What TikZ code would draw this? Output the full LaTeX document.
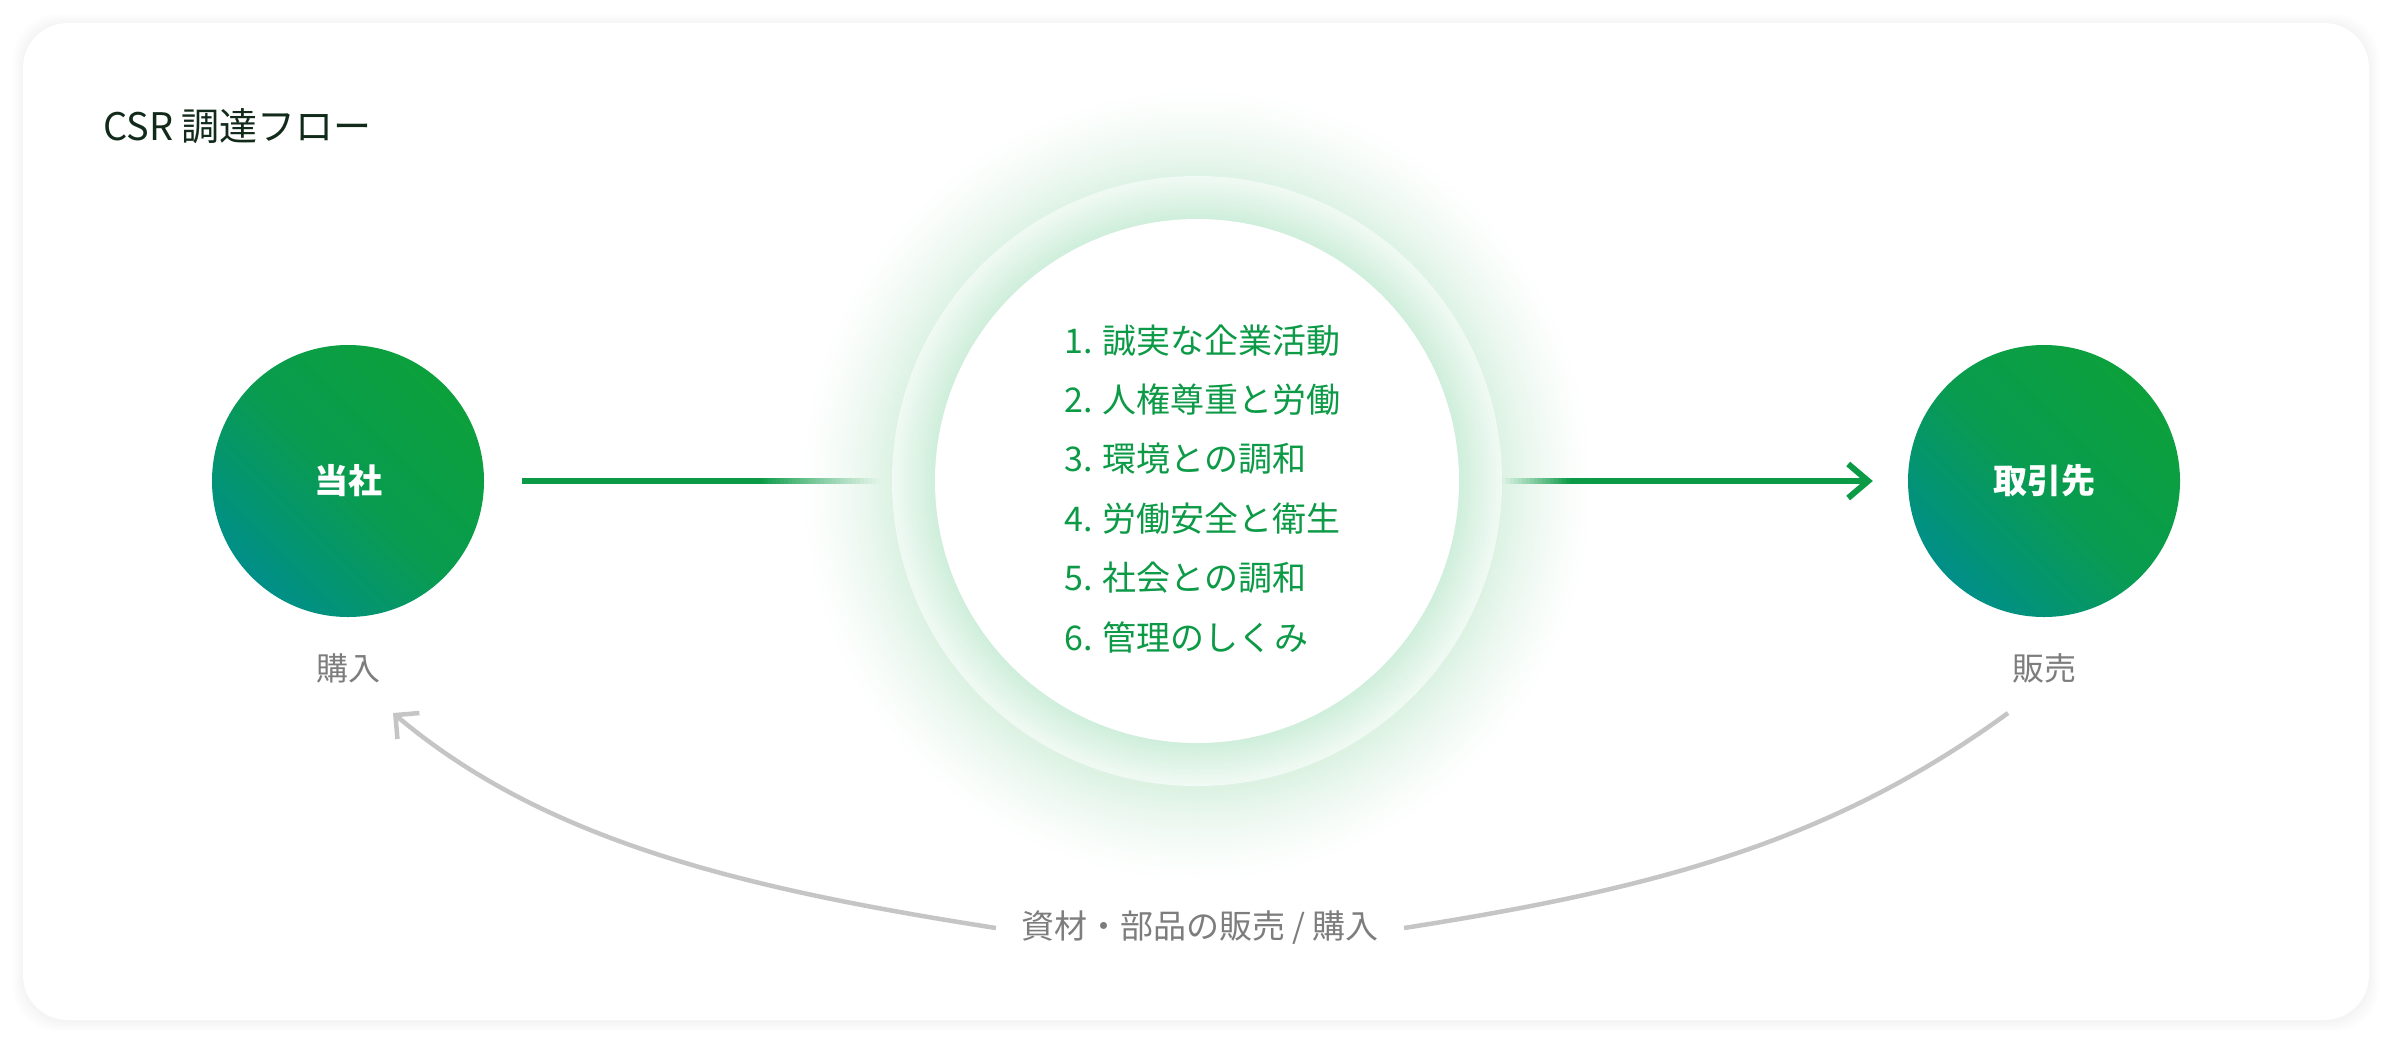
\documentclass[tikz,border=0pt]{standalone}
\usepackage{fontspec}
\setmainfont{Noto Sans CJK JP}
\usetikzlibrary{arrows.meta}
\definecolor{titlecol}{HTML}{112A1A}
\definecolor{listgreen}{HTML}{0C9A47}
\definecolor{linegreen}{HTML}{0B9B47}
\definecolor{cTop}{HTML}{0CA03C}
\definecolor{cBot}{HTML}{008F88}
\definecolor{graytext}{HTML}{7D7D7D}
\definecolor{grayarc}{HTML}{C5C5C5}
\definecolor{glowA}{HTML}{DDF2E4}
\definecolor{ringIn}{HTML}{CFEEDB}
\definecolor{ringEdge}{HTML}{F1FAF4}
\tikzset{
  bigcircle/.style={circle, minimum size=272pt, inner sep=0pt, top color=cTop, bottom color=cBot, middle color=cTop!75!cBot, shading angle=-45, text=white, font=\fontsize{34}{36}\selectfont\bfseries},
  sublabel/.style={inner sep=0pt, text=graytext, font=\fontsize{32}{34}\selectfont},
  listitem/.style={anchor=base west, inner sep=0pt, text=listgreen, font=\fontsize{34}{36}\selectfont},
  greenline/.style={draw=linegreen, line width=6pt},
  grayline/.style={draw=grayarc, line width=4.5pt},
}
\begin{document}
\begin{tikzpicture}[x=1pt,y=-1pt]
\useasboundingbox (0,0) rectangle (2392,1042);
\fill[white] (0,0) rectangle (2392,1042);
% card shadow
\foreach \i in {1,...,5}{
  \fill[black, opacity=0.007, rounded corners=45pt] (23-2*\i,23-2*\i+1) rectangle (2369+2*\i,1020+2*\i+1);
}
\fill[white, rounded corners=45pt] (23,23) rectangle (2369,1020);
% title
\node[anchor=base west, inner sep=0pt, text=titlecol, font=\fontsize{38}{40}\selectfont] (title) at (103,140) {CSR 調達フロー};
% glow (stepped radial gradient)
\coordinate (cc) at (1197,481);
\foreach \rad in {400,398,...,305}{
  \pgfmathsetmacro{\pp}{100*((400-\rad)/95)^1.4}
  \fill[glowA!\pp!white] (1197,485) circle (\rad pt);
}
% ring (stepped gradient)
\foreach \rad in {305,304,...,262}{
  \pgfmathsetmacro{\pp}{100*(305-\rad)/43}
  \fill[ringIn!\pp!ringEdge] (cc) circle (\rad pt);
}
\node[circle, fill=white, minimum size=524pt, inner sep=0pt] (policy) at (cc) {};
% list
\node[listitem] (p1) at (1064,353) {1. 誠実な企業活動};
\node[listitem] (p2) at (1064,412.4) {2. 人権尊重と労働};
\node[listitem] (p3) at (1064,471.8) {3. 環境との調和};
\node[listitem] (p4) at (1064,531.2) {4. 労働安全と衛生};
\node[listitem] (p5) at (1064,590.6) {5. 社会との調和};
\node[listitem] (p6) at (1064,650) {6. 管理のしくみ};
% side circles
\node[bigcircle] (tosha) at (348,481) {当社};
\node[bigcircle] (torihiki) at (2044,481) {取引先};
\node[sublabel] (kounyu) at (348,668) {購入};
\node[sublabel] (hanbai) at (2044,668) {販売};
% green connectors
\coordinate (fadeL) at (762,481);
\coordinate (fadeR) at (1570,481);
\draw[greenline, shorten <=38pt] (tosha.east) -- (fadeL);
\foreach \k in {0,...,29}{
  \pgfmathsetmacro{\op}{1-(\k+0.5)/30}
  \fill[linegreen, fill opacity=\op] (760+4*\k,478) rectangle (764+4*\k,484);
}
\foreach \k in {0,...,16}{
  \pgfmathsetmacro{\op}{(\k+0.5)/17}
  \fill[linegreen, fill opacity=\op] (1502+4*\k,478) rectangle (1506+4*\k,484);
}
\draw[greenline, shorten >=35pt, -{Straight Barb[length=20pt,width=34pt]}] (fadeR) -- (torihiki.west);
% bottom flow
\node[inner ysep=0pt, inner xsep=25pt, text=graytext, font=\fontsize{33}{35}\selectfont] (flow) at (1200,928) {資材・部品の販売 / 購入};
\coordinate (arcS) at (2008,713);
\coordinate (arcE) at (393,713);
\draw[grayline] (arcS) .. controls (1830,843) and (1653,889) .. (flow.east);
\draw[grayline, -{Straight Barb[length=17pt,width=34pt]}] (flow.west) .. controls (746,889) and (546,842) .. (arcE);
\end{tikzpicture}
\end{document}
